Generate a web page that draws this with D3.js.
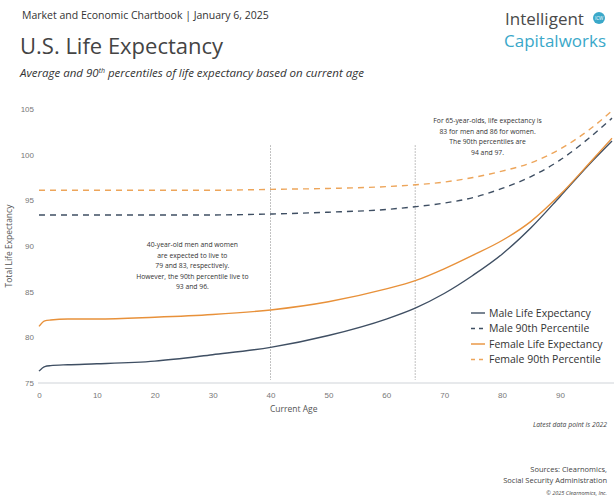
<!DOCTYPE html>
<html>
<head>
<meta charset="utf-8">
<script src="https://cdn.jsdelivr.net/npm/d3@7"></script>
<style>
  body { margin: 0; background: #fff; }
  svg { font-family: "Open Sans", "Noto Sans", sans-serif; }
  .tick text { fill: #777; font-size: 8px; }
</style>
</head>
<body>
<div id="chart"></div>
<script>
// ages
var ages = [0, 1, 2, 5, 10, 20, 30, 40, 50, 60, 65, 70, 75, 80, 85, 90, 95, 99]

var maleLE    = [76.3, 76.8, 76.9, 77.0, 77.1, 77.4, 78.1, 78.9, 80.2, 82.0, 83.2, 84.8, 86.8, 89.1, 92.0, 95.4, 98.9, 101.5]
var male90    = [93.4, 93.4, 93.4, 93.4, 93.4, 93.4, 93.4, 93.5, 93.7, 94.0, 94.3, 94.7, 95.3, 96.3, 97.6, 99.4, 101.8, 104.0]
var femaleLE  = [81.2, 81.8, 81.9, 82.0, 82.0, 82.2, 82.5, 83.0, 83.9, 85.3, 86.2, 87.5, 89.0, 90.6, 92.7, 95.6, 99.0, 101.8]
var female90  = [96.1, 96.1, 96.1, 96.1, 96.1, 96.1, 96.1, 96.2, 96.3, 96.5, 96.7, 97.0, 97.5, 98.2, 99.1, 100.6, 102.7, 104.8]

var seriesNames = ["Male Life Expectancy", "Male 90th Percentile", "Female Life Expectancy", "Female 90th Percentile"]
var seriesValues = [maleLE, male90, femaleLE, female90]
var seriesColors = ["#3f4f63", "#3f4f63", "#e8913a", "#eda55a"]
var seriesDash = [null, "6,5", null, "6,5"]

var xTicks = [0, 10, 20, 30, 40, 50, 60, 70, 80, 90]
var yTicks = [75, 80, 85, 90, 95, 100, 105]
var markerAges = [40, 65]

var noteA = ["40-year-old men and women", "are expected to live to", "79 and 83, respectively.", "However, the 90th percentile live to", "93 and 96."]
var noteB = ["For 65-year-olds, life expectancy is", "83 for men and 86 for women.", "The 90th percentiles are", "94 and 97."]

var W = 614, H = 503
var margin = {top: 109, right: 2, bottom: 120, left: 39},
    width = W - margin.left - margin.right,
    height = H - margin.top - margin.bottom;

var svg = d3.select("#chart").append("svg")
    .attr("width", W)
    .attr("height", H)

/* header */
svg.append("text").attr("x", 22).attr("y", 19)
    .style("font-size", "10.5px").style("fill", "#333")
    .text("Market and Economic Chartbook | January 6, 2025")
svg.append("text").attr("x", 20).attr("y", 54)
    .style("font-size", "22px").style("fill", "#444")
    .text("U.S. Life Expectancy")
svg.append("text").attr("x", 20).attr("y", 77)
    .style("font-size", "11.5px").style("font-style", "italic").style("fill", "#333")
    .html("Average and 90<tspan dy='-4' style='font-size:7px'>th</tspan><tspan dy='4'> percentiles of life expectancy based on current age</tspan>")

/* logo */
svg.append("text").attr("x", 505).attr("y", 25)
    .style("font-size", "17px").style("fill", "#4a4a4a")
    .text("Intelligent")
svg.append("circle").attr("cx", 599).attr("cy", 18).attr("r", 6).style("fill", "#3aa8c9")
svg.append("text").attr("x", 599).attr("y", 20).attr("text-anchor", "middle")
    .style("font-size", "4.5px").style("fill", "#fff").text("ICW")
svg.append("text").attr("x", 504).attr("y", 47)
    .style("font-size", "17px").style("fill", "#3aa8c9")
    .text("Capitalworks")

var g = svg.append("g")
    .attr("transform", "translate(" + margin.left + "," + margin.top + ")")

var x = d3.scaleLinear().domain([0, 99]).range([0, width])
var y = d3.scaleLinear().domain([75, 105]).range([height, 0])

/* x axis */
var xAxis = d3.axisBottom(x).tickValues(xTicks).tickSize(0).tickPadding(9)
g.append("g").attr("class", "x axis")
    .attr("transform", "translate(0," + height + ")")
    .call(xAxis)
    .call(function(s) { s.select(".domain").attr("stroke", "#cfd3d8").attr("d", "M-1,0H" + (width + 2)) })

/* y axis */
var yAxis = d3.axisLeft(y).tickValues(yTicks).tickSize(0).tickPadding(5)
g.append("g").attr("class", "y axis")
    .call(yAxis)
    .call(function(s) { s.select(".domain").remove() })

g.append("text")
    .attr("transform", "translate(-27," + (height / 2) + ") rotate(-90)")
    .attr("text-anchor", "middle")
    .style("font-size", "8.5px").style("fill", "#555")
    .text("Total Life Expectancy")

g.append("text").attr("x", x(44)).attr("y", height + 29)
    .attr("text-anchor", "middle")
    .style("font-size", "8.5px").style("fill", "#555")
    .text("Current Age")

/* marker lines */
g.selectAll(".marker").data(markerAges).enter().append("line")
    .attr("class", "marker")
    .attr("x1", function(d) { return x(d) }).attr("x2", function(d) { return x(d) })
    .attr("y1", y(101)).attr("y2", height - 3)
    .attr("stroke", "#666").attr("stroke-width", 0.8).attr("stroke-dasharray", "1,2")

/* series lines */
var line = d3.line()
    .x(function(d, i) { return x(ages[i]) })
    .y(function(d) { return y(d) })
    .curve(d3.curveMonotoneX)

g.selectAll(".series").data(seriesValues).enter().append("path")
    .attr("class", "series")
    .attr("d", line)
    .attr("fill", "none")
    .attr("stroke", function(d, i) { return seriesColors[i] })
    .attr("stroke-width", 1.4)
    .attr("stroke-dasharray", function(d, i) { return seriesDash[i] })

/* notes */
var noteStyle = function(sel) { sel.style("font-size", "6.8px").style("fill", "#333").attr("text-anchor", "middle") }
g.append("text").attr("x", x(26.5)).attr("y", 138).call(noteStyle)
    .selectAll("tspan").data(noteA).enter().append("tspan")
    .attr("x", x(26.5)).attr("dy", function(d, i) { return i ? 10.6 : 0 })
    .text(function(d) { return d })

g.append("text").attr("x", x(77.5)).attr("y", 14).call(noteStyle)
    .selectAll("tspan").data(noteB).enter().append("tspan")
    .attr("x", x(77.5)).attr("dy", function(d, i) { return i ? 10.6 : 0 })
    .text(function(d) { return d })

/* legend */
var legend = svg.append("g").attr("transform", "translate(471,313)")
var item = legend.selectAll(".item").data(seriesNames).enter().append("g")
    .attr("transform", function(d, i) { return "translate(0," + i * 15.5 + ")" })
item.append("line")
    .attr("x1", 0).attr("x2", 14).attr("y1", 0).attr("y2", 0)
    .attr("stroke", function(d, i) { return seriesColors[i] })
    .attr("stroke-width", 1.4)
    .attr("stroke-dasharray", function(d, i) { return seriesDash[i] ? "4,4" : null })
item.append("text").attr("x", 18).attr("y", 3.5)
    .style("font-size", "10.5px").style("fill", "#333")
    .text(function(d) { return d })

/* footer */
var foot = function(txt, yy, size, italic) {
    svg.append("text").attr("x", 607).attr("y", yy).attr("text-anchor", "end")
        .style("font-size", size).style("fill", "#444")
        .style("font-style", italic ? "italic" : "normal")
        .text(txt)
}
foot("Latest data point is 2022", 427, "6.8px", true)
foot("Sources: Clearnomics,", 472, "7.5px", false)
foot("Social Security Administration", 483, "7.5px", false)
foot("© 2025 Clearnomics, Inc.", 495, "5.5px", true)
</script>
</body>
</html>
